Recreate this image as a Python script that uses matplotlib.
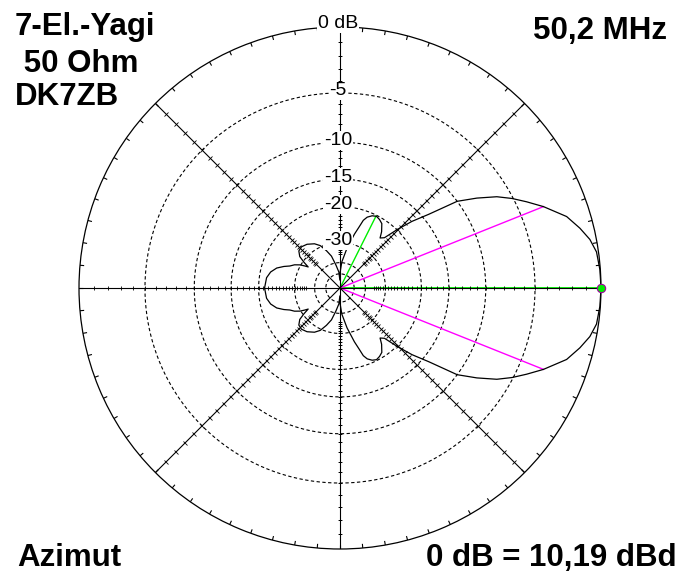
"""Azimuth pattern of a 7-element 6 m Yagi (ARRL log scale polar plot)."""

import numpy as np
import matplotlib
matplotlib.use("Agg")
import matplotlib.pyplot as plt
from matplotlib.markers import MarkerStyle
from matplotlib.transforms import Affine2D

plt.rcParams['font.family'] = ['Liberation Sans', 'DejaVu Sans']

# pattern, upper half (deg from boresight, dB rel. max); lower half is the mirror
pat_angle = [0, 4, 8, 11, 14, 17.5, 21.8, 24.8, 27.5, 30.2, 33.3, 36.5, 38, 39.7,
             42.8, 45.6, 48.5, 51.3, 53.5, 57, 60, 63, 66, 69, 71, 72.5, 75, 80,
             86, 89, 91, 94, 100, 105, 110, 115, 120, 127, 133, 138, 142, 144.5,
             146.5, 148, 150, 153, 156.3, 159, 162.5, 167, 172, 180]
pat_db = [0, -0.03, -0.13, -0.43, -0.93, -1.61, -3.0, -4.1, -5.1, -6.24, -8.0, -10.0,
          -12.0, -14.0, -16.8, -19.9, -23.3, -24.1, -22.6, -21.0, -20.5, -20.2, -20.5,
          -21.2, -22.2, -24.0, -26.5, -32.0, -39.5, -47.0, -60.0, -48.0, -41.5, -35.5,
          -32.3, -29.5, -28.0, -26.8, -26.3, -26.6, -28.0, -30.5, -33.0, -31.5, -29.7,
          -28.0, -26.8, -25.2, -23.5, -22.3, -21.6, -21.3]

ring_db = [-5, -10, -15, -20, -30, -40, -50]
label_db = [0, -5, -10, -15, -20, -30]
label_txt = ["0 dB", "-5", "-10", "-15", "-20", "-30"]

beam_angle = 21.8      # -3 dB points
beam_db = -3.0
side_angle = 63.4      # strongest side lobe
side_db = -20.2

left_lines = ["7-El.-Yagi", " 50 Ohm", "DK7ZB"]
freq_txt = "50,2 MHz"
mode_txt = "Azimut"
gain_txt = "0 dB = 10,19 dBd"

W, H = 685, 579
CX, CY, R = 340, 288, 261


def arrl(db):
    # ARRL log scale: radius shrinks by 0.89 per 2 dB
    return 0.89 ** (-np.asarray(db, dtype=float) / 2.0)


fig = plt.figure(figsize=(W / 100, H / 100), dpi=100)
ax = fig.add_axes([(CX - R) / W, (H - CY - R) / H, 2 * R / W, 2 * R / H],
                  projection="polar")
ax.set_ylim(0, 1)
ax.grid(False)
ax.set_xticks([])
ax.set_yticks([])
ax.spines["polar"].set_linewidth(0.9)
ax.spines["polar"].set_color("black")

lw = 0.8
theta = np.linspace(0, 2 * np.pi, 721)

# dashed dB rings
for db in ring_db:
    ax.plot(theta, np.full_like(theta, arrl(db)), color="black", lw=lw,
            ls=(0, (3, 2.2)), zorder=1)

# outer ring ticks every 5 deg
ax.vlines(np.deg2rad(np.arange(0, 360, 5)), 0.984, 1.0, color="black", lw=lw, zorder=2)

# green / magenta markers (drawn under the axis ticks)
ax.plot([0, 0], [0, 1], color="#00ee00", lw=1.3, zorder=2)
ax.plot([np.deg2rad(side_angle)] * 2, [0, arrl(side_db)], color="#00ee00", lw=1.0, zorder=2)
for s in (1, -1):
    ax.plot([np.deg2rad(s * beam_angle)] * 2, [0, arrl(beam_db)], color="#ff00ff",
            lw=1.0, zorder=2)

# solid axis lines with 1 dB ticks
tick_db = np.arange(-1, -36, -1)
for a in range(0, 360, 45):
    t = np.deg2rad(a)
    ax.plot([t, t], [0, 1], color="black", lw=lw, zorder=3)
    mk = MarkerStyle("|", transform=Affine2D().rotate_deg(a))
    ax.plot(np.full(tick_db.size, t), arrl(tick_db), ls="none", marker=mk,
            ms=3.2, mew=0.6, color="black", zorder=3)

# radiation pattern
ang = np.array(pat_angle)
val = np.array(pat_db)
full_ang = np.concatenate([ang, 360 - ang[::-1][1:]])
full_db = np.concatenate([val, val[::-1][1:]])
ax.plot(np.deg2rad(full_ang), arrl(full_db), color="black", lw=0.9, zorder=4)

ax.plot([0], [1], marker="o", ms=6, mfc="#00ee00", mec="#a000a0", mew=0.8,
        zorder=6, clip_on=False)

# ring labels on the vertical axis
for db, txt in zip(label_db, label_txt):
    dy = 3 if db == 0 else 2
    ax.annotate(txt, xy=(np.pi / 2, arrl(db)), xytext=(-2, dy),
                textcoords="offset pixels", ha="center", va="center", fontsize=14,
                bbox=dict(fc="white", ec="none", pad=0.5), zorder=7,
                annotation_clip=False)


def ftext(x, y, s, **kw):
    fig.text(x / W, 1 - y / H, s, fontsize=22.5, fontweight="bold",
             va="baseline", **kw)


for txt, y in zip(left_lines, [35, 71.5, 105]):
    ftext(15, y, txt)
ftext(667, 39, freq_txt, ha="right")
ftext(17, 566, mode_txt)
ftext(677, 566, gain_txt, ha="right")

fig.savefig("out.png", dpi=100, facecolor="white")
